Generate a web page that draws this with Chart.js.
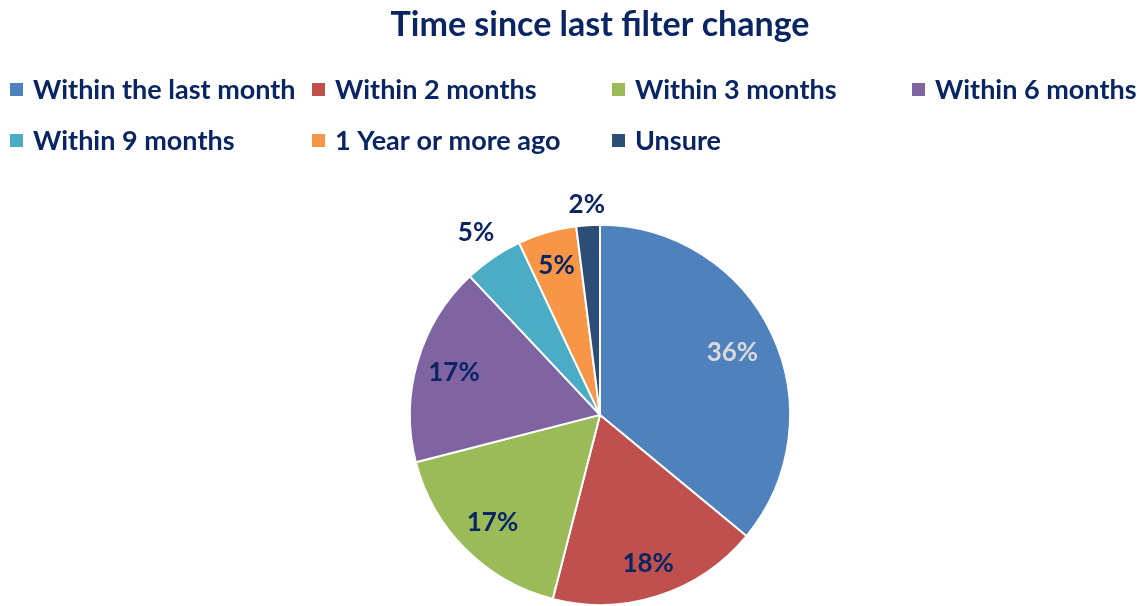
<!DOCTYPE html>
<html>
<head>
<meta charset="utf-8">
<script src="https://cdn.jsdelivr.net/npm/chart.js@4/dist/chart.umd.min.js"></script>
<style>
  html, body { margin: 0; padding: 0; background: #fff; }
  #wrap { width: 1146px; height: 606px; position: relative; }
</style>
</head>
<body>
<div id="wrap"><canvas id="pie"></canvas></div>
<script>
// chart data
const categories = ['Within the last month', 'Within 2 months', 'Within 3 months', 'Within 6 months',
                    'Within 9 months', '1 Year or more ago', 'Unsure'];
const shares = [36, 18, 17, 17, 5, 5, 2];
const sliceColors = ['#4F81BD', '#C0504D', '#9BBB59', '#8064A2', '#4BACC6', '#F79646', '#2C4D75'];

const TEXT = '#0A2563';
const FONT = 'Lato, "Open Sans", sans-serif';

// legend drawn in a grid like the original (4 columns)
const gridLegend = {
    id: 'gridLegend',
    afterDraw(chart) {
        const ctx = chart.ctx;
        const colX = [10, 312, 612, 912];
        const rowY = [89.5, 140.5];
        ctx.save();
        ctx.font = 'bold 27px ' + FONT;
        ctx.textBaseline = 'middle';
        categories.forEach((name, i) => {
            const x = colX[i % 4];
            const y = rowY[Math.floor(i / 4)];
            ctx.fillStyle = sliceColors[i];
            ctx.fillRect(x, y - 6.5, 13, 13);
            ctx.fillStyle = TEXT;
            ctx.fillText(name, x + 23, y + 1);
        });
        ctx.restore();
    }
};

// percent labels, some slices push theirs outside the pie
const sliceLabels = {
    id: 'sliceLabels',
    afterDatasetsDraw(chart) {
        const ctx = chart.ctx;
        const radial = [0.77, 0.82, 0.8, 0.8, 1.16, 0.82, 1.11];
        const colors = ['#D9D9D9', TEXT, TEXT, TEXT, TEXT, TEXT, TEXT];
        ctx.save();
        ctx.font = 'bold 26px ' + FONT;
        ctx.textAlign = 'center';
        ctx.textBaseline = 'middle';
        chart.getDatasetMeta(0).data.forEach((arc, i) => {
            const mid = (arc.startAngle + arc.endAngle) / 2;
            const r = arc.outerRadius * radial[i];
            ctx.fillStyle = colors[i];
            ctx.fillText(shares[i] + '%', arc.x + Math.cos(mid) * r, arc.y + Math.sin(mid) * r);
        });
        ctx.restore();
    }
};

new Chart(document.getElementById('pie'), {
    type: 'pie',
    data: {
        labels: categories,
        datasets: [{
            data: shares,
            backgroundColor: sliceColors,
            borderColor: '#ffffff',
            borderWidth: 2
        }]
    },
    options: {
        responsive: true,
        maintainAspectRatio: false,
        animation: false,
        layout: { padding: { top: 0, bottom: 0, left: 54, right: 0 } },
        plugins: {
            legend: { display: false },
            tooltip: { enabled: false },
            title: {
                display: true,
                text: 'Time since last filter change',
                color: TEXT,
                font: { family: FONT, size: 34, weight: 'bold', lineHeight: 1.2 },
                padding: { top: 5, bottom: 178 }
            }
        }
    },
    plugins: [gridLegend, sliceLabels]
});
</script>
</body>
</html>
